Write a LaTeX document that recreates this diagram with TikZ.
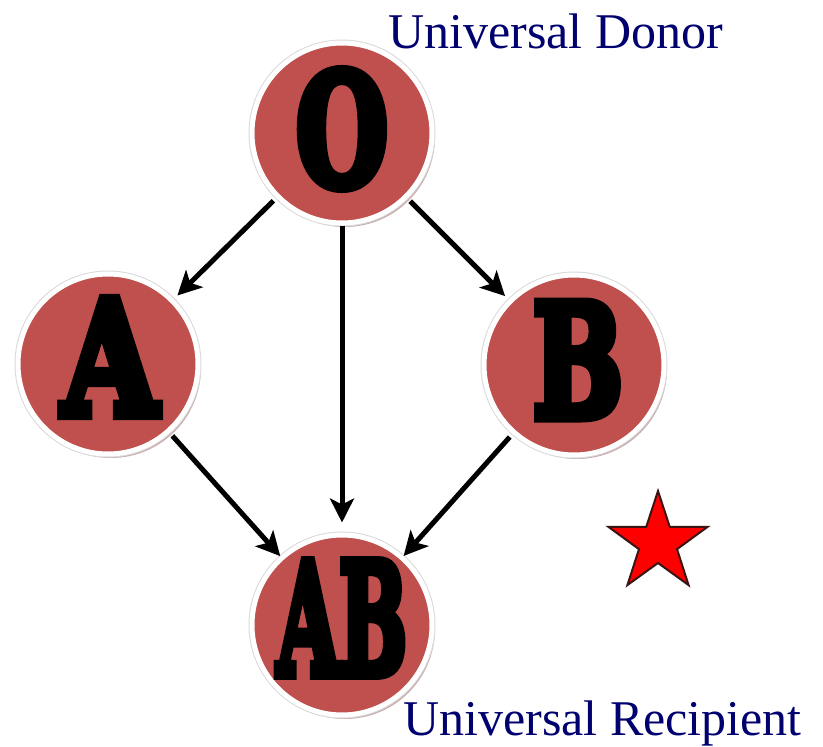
\documentclass[tikz,border=0pt]{standalone}
\usepackage{graphicx}
\usepackage{fontspec}
\setmainfont{Liberation Serif}
\newfontfamily\letterfont{DejaVu Serif Bold}[FakeBold=7]
\usetikzlibrary{shapes.geometric,shadows,arrows.meta}
\definecolor{bloodred}{HTML}{C0504D}
\definecolor{ringshadow}{HTML}{B89494}
\definecolor{labelblue}{RGB}{0,0,110}
\tikzset{
  blood/.style={circle, fill=bloodred, draw=white, line width=5pt,
    minimum size=180pt, inner sep=0pt, outer sep=2.5pt,
    drop shadow={shadow xshift=3pt, shadow yshift=-4pt, fill=ringshadow, opacity=0.75},
    preaction={draw=black!15, line width=7pt}},
  flow/.style={line width=5pt, -{Stealth[length=24pt,width=24pt,inset=6pt]}},
  caption/.style={text=labelblue, font=\fontsize{50}{50}\selectfont, inner sep=0pt, anchor=base west}
}
\begin{document}
\begin{tikzpicture}[x=1pt,y=-1pt]
\useasboundingbox (0,0) rectangle (823,747);
\node[blood] (O) at (342,133) {};
\node[blood] (A) at (108,364) {};
\node[blood] (B) at (574,365) {};
\node[blood] (AB) at (342,625) {};
\node (Ot) at (342,129) {\resizebox{92pt}{115pt}{\letterfont O}};
\node (At) at (110,357) {\resizebox{95pt}{115pt}{\letterfont A}};
\node (Bt) at (578,360) {\resizebox{90pt}{114pt}{\letterfont B}};
\node (ABt) at (342,618) {\resizebox{130pt}{113pt}{\letterfont AB}};
\draw[flow, shorten <=4pt, shorten >=5pt] (O) -- (A);
\draw[flow, shorten <=4pt, shorten >=5pt] (O) -- (B);
\draw[flow, shorten <=0pt, shorten >=10pt] (O) -- (AB);
\draw[flow, shorten <=4pt, shorten >=0pt] (A) -- (AB);
\draw[flow, shorten <=4pt, shorten >=0pt] (B) -- (AB);
\node[caption] (donor) at (388,48) {Universal Donor};
\node[caption] (recip) at (403,735) {Universal Recipient};
\node[star, star points=5, star point ratio=2.6, minimum size=104pt, inner sep=0pt,
  fill=red, draw={rgb,255:red,60;green,20;blue,20}, line width=2pt] (star1) at (658,543) {};
\end{tikzpicture}
\end{document}
